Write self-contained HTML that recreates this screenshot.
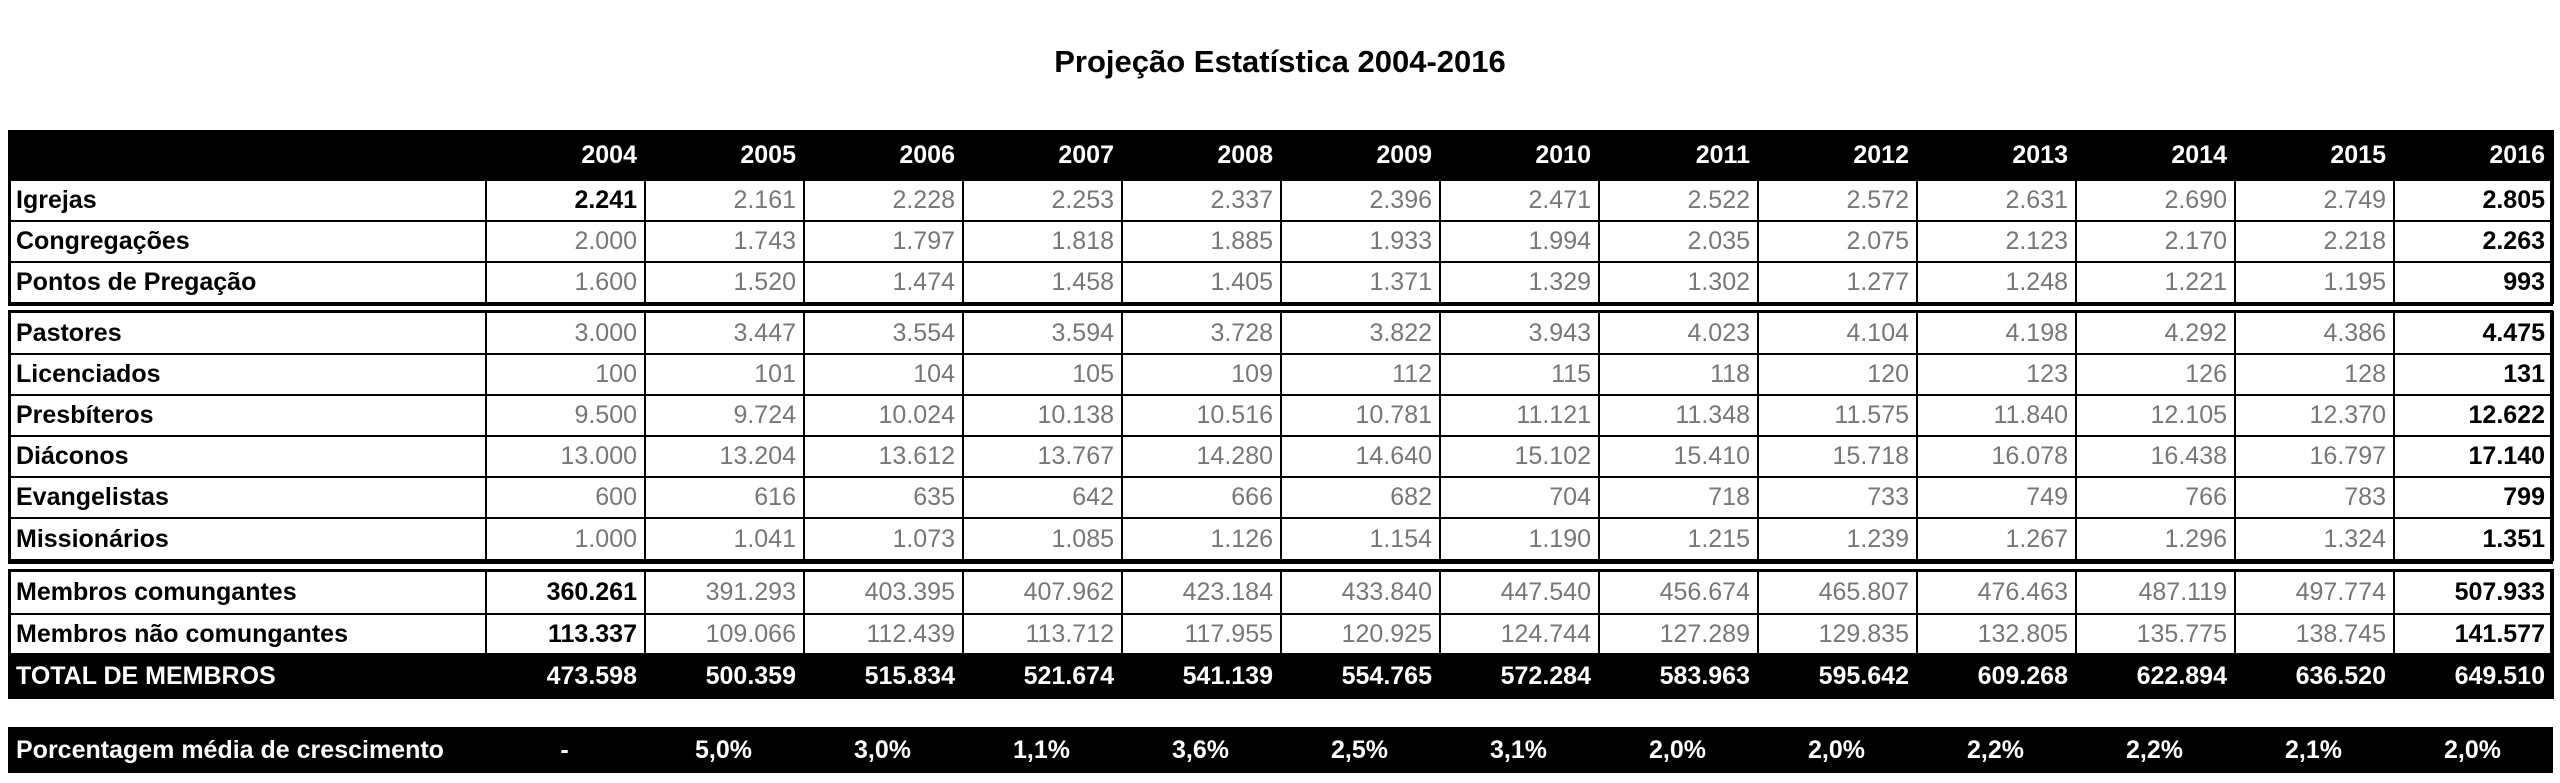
<!DOCTYPE html>
<html><head><meta charset="utf-8"><style>
html,body{margin:0;padding:0;background:#fff;width:2560px;height:783px;overflow:hidden;position:relative;font-family:"Liberation Sans",Arial,sans-serif;}
.title{position:absolute;top:44px;left:0;width:2560px;text-align:center;font-weight:bold;font-size:31px;color:#000;}
table{position:absolute;left:8px;width:2545px;border-collapse:collapse;table-layout:fixed;font-size:25px;}
td{padding:0 7px;white-space:nowrap;overflow:hidden;border:2px solid #000;text-align:right;color:#777;}
td.l{text-align:left;font-weight:bold;color:#000;padding-left:6px;}
td.b{font-weight:bold;color:#000;}
tr.h td{background:#000;color:#fff;font-weight:bold;border-color:#000;}
tr.t td{background:#000;color:#fff;font-weight:bold;border-color:#000;}
.box{position:absolute;left:8px;width:2539px;border:3px solid #000;}
.pct{position:absolute;left:8px;top:727px;width:2545px;height:46px;background:#000;color:#fff;font-weight:bold;font-size:25px;}
.pct div{position:absolute;top:0;line-height:46px;text-align:center;width:159px;}
</style></head><body>
<div class="title">Projeção Estatística 2004-2016</div>

<table style="top:130px;">
<colgroup><col style="width:477px"><col span="13" style="width:159px"></colgroup>
<tr class="h" style="height:49px"><td></td><td>2004</td><td>2005</td><td>2006</td><td>2007</td><td>2008</td><td>2009</td><td>2010</td><td>2011</td><td>2012</td><td>2013</td><td>2014</td><td>2015</td><td>2016</td></tr>
<tr style="height:41px"><td class="l">Igrejas</td><td class="b">2.241</td><td>2.161</td><td>2.228</td><td>2.253</td><td>2.337</td><td>2.396</td><td>2.471</td><td>2.522</td><td>2.572</td><td>2.631</td><td>2.690</td><td>2.749</td><td class="b">2.805</td></tr>
<tr style="height:41px"><td class="l">Congregações</td><td>2.000</td><td>1.743</td><td>1.797</td><td>1.818</td><td>1.885</td><td>1.933</td><td>1.994</td><td>2.035</td><td>2.075</td><td>2.123</td><td>2.170</td><td>2.218</td><td class="b">2.263</td></tr>
<tr style="height:41px"><td class="l">Pontos de Pregação</td><td>1.600</td><td>1.520</td><td>1.474</td><td>1.458</td><td>1.405</td><td>1.371</td><td>1.329</td><td>1.302</td><td>1.277</td><td>1.248</td><td>1.221</td><td>1.195</td><td class="b">993</td></tr>
</table>
<div class="box" style="top:130px;height:170px;"></div>

<table style="top:311px;">
<colgroup><col style="width:477px"><col span="13" style="width:159px"></colgroup>
<tr style="height:42px"><td class="l">Pastores</td><td>3.000</td><td>3.447</td><td>3.554</td><td>3.594</td><td>3.728</td><td>3.822</td><td>3.943</td><td>4.023</td><td>4.104</td><td>4.198</td><td>4.292</td><td>4.386</td><td class="b">4.475</td></tr>
<tr style="height:41px"><td class="l">Licenciados</td><td>100</td><td>101</td><td>104</td><td>105</td><td>109</td><td>112</td><td>115</td><td>118</td><td>120</td><td>123</td><td>126</td><td>128</td><td class="b">131</td></tr>
<tr style="height:41px"><td class="l">Presbíteros</td><td>9.500</td><td>9.724</td><td>10.024</td><td>10.138</td><td>10.516</td><td>10.781</td><td>11.121</td><td>11.348</td><td>11.575</td><td>11.840</td><td>12.105</td><td>12.370</td><td class="b">12.622</td></tr>
<tr style="height:41px"><td class="l">Diáconos</td><td>13.000</td><td>13.204</td><td>13.612</td><td>13.767</td><td>14.280</td><td>14.640</td><td>15.102</td><td>15.410</td><td>15.718</td><td>16.078</td><td>16.438</td><td>16.797</td><td class="b">17.140</td></tr>
<tr style="height:41px"><td class="l">Evangelistas</td><td>600</td><td>616</td><td>635</td><td>642</td><td>666</td><td>682</td><td>704</td><td>718</td><td>733</td><td>749</td><td>766</td><td>783</td><td class="b">799</td></tr>
<tr style="height:42px"><td class="l">Missionários</td><td>1.000</td><td>1.041</td><td>1.073</td><td>1.085</td><td>1.126</td><td>1.154</td><td>1.190</td><td>1.215</td><td>1.239</td><td>1.267</td><td>1.296</td><td>1.324</td><td class="b">1.351</td></tr>
</table>
<div class="box" style="top:310px;height:248px;"></div>

<table style="top:569px;">
<colgroup><col style="width:477px"><col span="13" style="width:159px"></colgroup>
<tr style="height:44px"><td class="l">Membros comungantes</td><td class="b">360.261</td><td>391.293</td><td>403.395</td><td>407.962</td><td>423.184</td><td>433.840</td><td>447.540</td><td>456.674</td><td>465.807</td><td>476.463</td><td>487.119</td><td>497.774</td><td class="b">507.933</td></tr>
<tr style="height:40px"><td class="l">Membros não comungantes</td><td class="b">113.337</td><td>109.066</td><td>112.439</td><td>113.712</td><td>117.955</td><td>120.925</td><td>124.744</td><td>127.289</td><td>129.835</td><td>132.805</td><td>135.775</td><td>138.745</td><td class="b">141.577</td></tr>
<tr class="t" style="height:44px"><td class="l" style="color:#fff">TOTAL DE MEMBROS</td><td>473.598</td><td>500.359</td><td>515.834</td><td>521.674</td><td>541.139</td><td>554.765</td><td>572.284</td><td>583.963</td><td>595.642</td><td>609.268</td><td>622.894</td><td>636.520</td><td>649.510</td></tr>
</table>
<div class="box" style="top:569px;height:122px;"></div>

<div class="pct">
<div style="left:8px;width:470px;text-align:left;">Porcentagem média de crescimento</div>
<div style="left:477px">-</div>
<div style="left:636px">5,0%</div>
<div style="left:795px">3,0%</div>
<div style="left:954px">1,1%</div>
<div style="left:1113px">3,6%</div>
<div style="left:1272px">2,5%</div>
<div style="left:1431px">3,1%</div>
<div style="left:1590px">2,0%</div>
<div style="left:1749px">2,0%</div>
<div style="left:1908px">2,2%</div>
<div style="left:2067px">2,2%</div>
<div style="left:2226px">2,1%</div>
<div style="left:2385px">2,0%</div>
</div>
</body></html>
